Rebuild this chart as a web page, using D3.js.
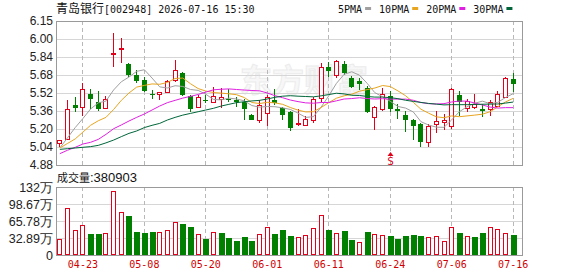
<!DOCTYPE html>
<html><head><meta charset="utf-8">
<script src="https://cdn.jsdelivr.net/npm/d3@7/dist/d3.min.js"></script>
<style>body{margin:0;background:#fff}svg{display:block}</style>
</head><body>
<svg id="c" width="578" height="276"></svg>
<script>
// ---------- data ----------
const dates = ["04-20","04-21","04-22","04-23","04-24","04-27","04-28","04-29","04-30","05-06",
  "05-07","05-08","05-11","05-12","05-13","05-14","05-15","05-18","05-19","05-20",
  "05-21","05-22","05-25","05-26","05-27","05-28","05-29","06-01","06-02","06-03",
  "06-04","06-05","06-08","06-09","06-10","06-11","06-12","06-15","06-16","06-17",
  "06-18","06-22","06-23","06-24","06-25","06-26","06-29","06-30","07-01","07-02",
  "07-03","07-06","07-07","07-08","07-09","07-10","07-13","07-14","07-15","07-16"];
const open = [5.07,5.11,5.41,5.39,5.51,5.44,5.38,5.86,5.90,5.77,5.67,5.63,5.51,5.51,5.52,5.63,5.69,5.49,5.39,5.455,
  5.44,5.46,5.46,5.45,5.44,5.32,5.28,5.34,5.45,5.38,5.35,5.24,5.23,5.28,5.47,5.74,5.67,5.77,5.65,5.62,
  5.56,5.30,5.37,5.49,5.37,5.32,5.28,5.24,5.08,5.24,5.26,5.22,5.50,5.38,5.39,5.37,5.37,5.40,5.48,5.64];
const high = [5.10,5.45,5.48,5.60,5.55,5.53,5.49,6.04,6.00,5.78,5.72,5.66,5.54,5.52,5.63,5.81,5.70,5.50,5.50,5.50,
  5.57,5.56,5.55,5.48,5.46,5.33,5.45,5.50,5.55,5.39,5.36,5.37,5.31,5.48,5.78,5.79,5.81,5.80,5.665,5.645,
  5.58,5.40,5.56,5.53,5.42,5.36,5.29,5.25,5.24,5.36,5.33,5.56,5.536,5.46,5.51,5.42,5.455,5.536,5.655,5.69];
const low = [5.04,5.10,5.35,5.31,5.37,5.36,5.38,5.74,5.78,5.66,5.60,5.52,5.46,5.45,5.52,5.61,5.49,5.35,5.39,5.43,
  5.43,5.38,5.44,5.39,5.28,5.28,5.25,5.22,5.41,5.28,5.18,5.22,5.22,5.25,5.44,5.66,5.65,5.67,5.555,5.54,
  5.34,5.19,5.36,5.35,5.29,5.17,5.10,5.04,5.04,5.16,5.19,5.20,5.31,5.35,5.37,5.30,5.31,5.39,5.48,5.52];
const close = [5.10,5.375,5.38,5.55,5.46,5.37,5.46,5.87,5.91,5.67,5.62,5.53,5.505,5.52,5.62,5.72,5.50,5.37,5.48,5.45,
  5.49,5.48,5.45,5.44,5.37,5.28,5.41,5.48,5.43,5.32,5.21,5.25,5.29,5.46,5.74,5.71,5.80,5.69,5.57,5.59,
  5.35,5.39,5.51,5.37,5.36,5.28,5.22,5.08,5.22,5.27,5.275,5.55,5.44,5.445,5.42,5.356,5.44,5.51,5.65,5.59];
// volume in 万 (10k shares)
const volume = [30.3,90.3,48.4,58.0,40.6,40.6,41.9,123.8,82.6,75.5,44.5,43.2,44.5,44.5,48.4,63.8,60.0,54.8,40.6,31.0,
  44.2,43.0,32.9,27.4,35.2,26.2,40.0,54.2,40.6,48.4,36.8,35.2,38.7,52.3,77.4,48.4,42.2,46.4,29.0,25.2,
  44.2,40.3,38.7,36.8,31.0,36.2,38.4,36.8,34.5,36.8,27.4,54.5,42.9,36.8,34.5,42.9,54.5,50.3,42.9,38.09];
const ma5 = [5.03,5.12,5.21,5.29,5.374,5.428,5.444,5.542,5.614,5.656,5.706,5.72,5.647,5.569,5.559,5.579,5.573,5.546,5.538,5.504,
  5.458,5.454,5.47,5.462,5.446,5.404,5.39,5.396,5.394,5.384,5.37,5.338,5.30,5.306,5.39,5.49,5.60,5.68,5.702,5.672,
  5.60,5.518,5.482,5.442,5.396,5.382,5.348,5.262,5.232,5.214,5.212,5.278,5.35,5.394,5.425,5.443,5.421,5.433,5.475,5.509];
const ma10 = [5.03,5.07,5.11,5.17,5.23,5.27,5.30,5.37,5.45,5.515,5.567,5.582,5.595,5.592,5.608,5.643,5.647,5.597,5.554,5.532,
  5.519,5.514,5.508,5.50,5.475,5.431,5.422,5.433,5.428,5.415,5.387,5.364,5.348,5.35,5.387,5.43,5.469,5.49,5.504,5.531,
  5.545,5.559,5.581,5.572,5.534,5.491,5.433,5.372,5.337,5.305,5.297,5.313,5.306,5.313,5.32,5.328,5.35,5.393,5.436,5.468];
const ma20 = [4.98,5.01,5.036,5.065,5.08,5.106,5.15,5.20,5.233,5.268,5.30,5.33,5.365,5.40,5.43,5.45,5.47,5.485,5.502,5.523,
  5.543,5.548,5.551,5.546,5.541,5.537,5.534,5.515,5.491,5.473,5.453,5.439,5.428,5.425,5.431,5.431,5.446,5.462,5.466,5.473,
  5.466,5.462,5.465,5.461,5.461,5.461,5.451,5.431,5.421,5.418,5.421,5.436,5.444,5.443,5.427,5.409,5.391,5.382,5.386,5.386];
const ma30 = [5.018,5.024,5.03,5.036,5.042,5.053,5.075,5.10,5.13,5.159,5.18,5.21,5.23,5.247,5.277,5.30,5.32,5.335,5.35,5.365,
  5.38,5.40,5.415,5.43,5.438,5.445,5.45,5.462,5.477,5.487,5.491,5.487,5.484,5.481,5.49,5.501,5.513,5.507,5.495,5.493,
  5.484,5.479,5.479,5.474,5.465,5.451,5.441,5.432,5.423,5.417,5.41,5.412,5.412,5.412,5.414,5.416,5.417,5.418,5.426,5.435];
const maNames = ["5PMA","10PMA","20PMA","30PMA"];
const priceMin = 4.88, priceMax = 6.15;
const priceTickLabels = ["4.88","5.04","5.20","5.36","5.52","5.68","5.84","6.00","6.15"];
const volMax = 131.56;
const volTickValues = [0,32.89,65.78,98.67,131.56];
const volTickLabels = ["0","32.89万","65.78万","98.67万","132万"];
const dateTickLabels = ["04-23","05-08","05-20","06-01","06-11","06-24","07-06","07-16"];
const signals = [{date:"06-24", text:"S"}];
const titleName = "青岛银行";
const titleRest = "[002948] 2026-07-16 15:30";
const volTitle = "成交量";
const volLast = ":380903";
const watermark = "东方财富";

// ---------- styles ----------
const RED = "#e2001a", GREEN = "#007f00";
const maColors = ["#a0a0a0","#e8a520","#e020e0","#00663a"];
const monoFont = "'DejaVu Sans Mono', monospace";
const sansFont = "'Liberation Sans', Arial, sans-serif";
const cjkFont = "'Noto Sans CJK SC', sans-serif";

const L = 56, R = 523, PT = 21, PB = 165, VT = 187, VB = 255;
const svg = d3.select("#c");

const x = d3.scaleBand().domain(dates).range([L, 517]).padding(0);
const cx = d => Math.floor(x(d) + x.bandwidth() / 2);
const y = d3.scaleLinear().domain([priceMin, priceMax]).range([PB, PT]);
const yv = d3.scaleLinear().domain([0, volMax]).range([VB, VT]);
const priceTickValues = priceTickLabels.map((_, k) => priceMin + k * (priceMax - priceMin) / (priceTickLabels.length - 1));

// watermark (faint outline text)
svg.append("text").attr("x", 240).attr("y", 92).attr("font-family", cjkFont).attr("font-weight", "bold")
  .attr("font-size", 32).attr("fill", "#f7f7f7").attr("stroke", "#ececec").attr("stroke-width", 1).text(watermark);

// horizontal grid
const grid = svg.append("g").attr("stroke", "#d6d6d6").attr("shape-rendering", "crispEdges");
priceTickValues.forEach(v => grid.append("line").attr("x1", L).attr("x2", R).attr("y1", Math.round(y(v)) + 0.5).attr("y2", Math.round(y(v)) + 0.5));
volTickValues.forEach(v => grid.append("line").attr("x1", L).attr("x2", R).attr("y1", Math.round(yv(v)) + 0.5).attr("y2", Math.round(yv(v)) + 0.5));

// vertical dashed grid
const vg = svg.append("g").attr("stroke", "#b8b8b8").attr("stroke-dasharray", "4,3").attr("shape-rendering", "crispEdges");
dateTickLabels.forEach(d => {
  const xx = cx(d) + 0.5;
  vg.append("line").attr("x1", xx).attr("x2", xx).attr("y1", PT).attr("y2", PB);
  vg.append("line").attr("x1", xx).attr("x2", xx).attr("y1", VT).attr("y2", VB);
});

// axes labels
const yAxis = d3.axisLeft(y).tickValues(priceTickValues).tickSize(0).tickPadding(3)
  .tickFormat((d, i) => priceTickLabels[i]);
const ga = svg.append("g").attr("transform", `translate(${L},0)`).call(yAxis);
ga.select(".domain").remove();
ga.selectAll("text").attr("font-family", sansFont).attr("font-size", 12).attr("fill", "#222");

const vAxis = d3.axisLeft(yv).tickValues(volTickValues).tickSize(0).tickPadding(3)
  .tickFormat((d, i) => volTickLabels[i]);
const gv = svg.append("g").attr("transform", `translate(${L},0)`).call(vAxis);
gv.select(".domain").remove();
gv.selectAll("text").attr("font-family", sansFont).attr("font-size", 12.5).attr("fill", "#222");

const xAxis = d3.axisBottom(x).tickValues(dateTickLabels).tickSize(0).tickPadding(6);
const gx = svg.append("g").attr("transform", `translate(0,${VB})`).call(xAxis);
gx.select(".domain").remove();
gx.selectAll("text").attr("font-family", monoFont).attr("font-size", 10).attr("fill", "#d00000");

// candles
const candles = svg.append("g").attr("shape-rendering", "crispEdges");
dates.forEach((d, i) => {
  const c = cx(d), up = close[i] >= open[i];
  const col = up ? RED : GREEN;
  candles.append("line").attr("x1", c + 0.5).attr("x2", c + 0.5)
    .attr("y1", y(high[i])).attr("y2", y(low[i])).attr("stroke", col);
  const top = Math.round(y(Math.max(open[i], close[i]))), bot = Math.round(y(Math.min(open[i], close[i])));
  if (up) {
    candles.append("rect").attr("x", c - 2 + 0.5).attr("y", top + 0.5).attr("width", 4)
      .attr("height", Math.max(bot - top, 1)).attr("fill", "#fff").attr("stroke", col);
  } else {
    candles.append("rect").attr("x", c - 2).attr("y", top).attr("width", 5)
      .attr("height", Math.max(bot - top, 1)).attr("fill", col);
  }
});

// MA lines
const lineGen = d3.line().x((v, i) => x(dates[i]) + x.bandwidth() / 2).y(v => y(v));
[ma5, ma10, ma20, ma30].forEach((arr, k) => {
  svg.append("path").attr("d", lineGen(arr)).attr("fill", "none")
    .attr("stroke", maColors[k]).attr("stroke-width", 1);
});

// volume bars (colour by close vs previous close)
const vb = svg.append("g").attr("shape-rendering", "crispEdges");
dates.forEach((d, i) => {
  const c = cx(d);
  const up = i === 0 ? close[i] >= open[i] : close[i] >= close[i - 1];
  const top = Math.round(yv(volume[i]));
  if (up) {
    vb.append("rect").attr("x", c - 2 + 0.5).attr("y", top + 0.5).attr("width", 4)
      .attr("height", VB - top - 1).attr("fill", "#fff").attr("stroke", RED);
  } else {
    vb.append("rect").attr("x", c - 2).attr("y", top).attr("width", 6)
      .attr("height", VB - top).attr("fill", GREEN);
  }
});

// signals
signals.forEach(s => {
  const c = cx(s.date) + 0.5;
  svg.append("path").attr("d", `M${c},${152} L${c - 3},${156} L${c + 3},${156} Z`).attr("fill", RED);
  svg.append("text").attr("x", c).attr("y", 165).attr("text-anchor", "middle")
    .attr("font-family", monoFont).attr("font-size", 11).attr("fill", RED).text(s.text);
});

// frames
svg.append("rect").attr("x", L + 0.5).attr("y", PT + 0.5).attr("width", R - L - 1).attr("height", PB - PT)
  .attr("fill", "none").attr("stroke", "#9a9a9a").attr("shape-rendering", "crispEdges");
svg.append("rect").attr("x", L + 0.5).attr("y", VT + 0.5).attr("width", R - L - 1).attr("height", VB - VT)
  .attr("fill", "none").attr("stroke", "#9a9a9a").attr("shape-rendering", "crispEdges");

// title
const t = svg.append("text").attr("x", 56).attr("y", 13).attr("fill", "#111");
t.append("tspan").attr("font-family", cjkFont).attr("font-size", 12).text(titleName);
t.append("tspan").attr("font-family", monoFont).attr("font-size", 10).text(titleRest);

// volume title
const vt = svg.append("text").attr("x", 57).attr("y", 182).attr("fill", "#111");
vt.append("tspan").attr("font-family", cjkFont).attr("font-size", 11).text(volTitle);
vt.append("tspan").attr("font-family", sansFont).attr("font-size", 13).text(volLast);

// legend
let lx = 338;
maNames.forEach((n, k) => {
  const tx = svg.append("text").attr("x", lx).attr("y", 12.5).attr("font-family", monoFont)
    .attr("font-size", 10).attr("fill", "#111").text(n);
  const w = tx.node().getComputedTextLength();
  svg.append("rect").attr("x", lx + w + 3).attr("y", 7).attr("width", 6).attr("height", 3).attr("fill", maColors[k]);
  lx += w + 3 + 6 + 8;
});
</script>
</body></html>
